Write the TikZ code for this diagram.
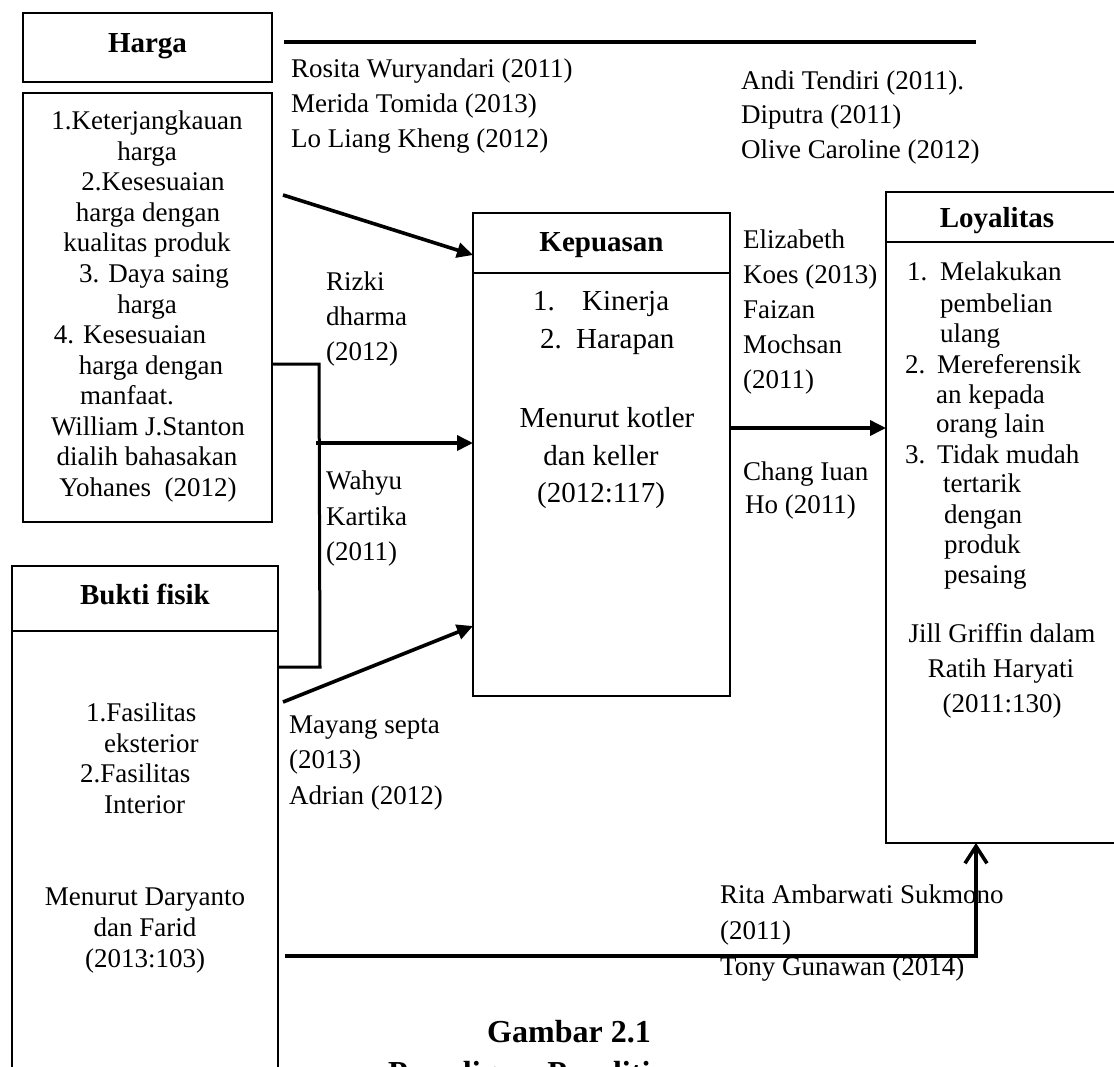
\documentclass[tikz,border=0pt]{standalone}
\usepackage{fontspec}
\setmainfont{Liberation Serif}
\usetikzlibrary{arrows.meta,calc}
\begin{document}
\begin{tikzpicture}[x=1pt,y=-1pt,
  txt/.style={font=\fontsize{27}{32}\selectfont, inner sep=0pt, anchor=base west},
  txtc/.style={txt, anchor=base},
  ktxt/.style={font=\fontsize{29}{34}\selectfont, inner sep=0pt, anchor=base west},
  ktxtc/.style={ktxt, anchor=base},
  ttl/.style={font=\bfseries\fontsize{29}{34}\selectfont, inner sep=0pt, anchor=base},
  capt/.style={font=\bfseries\fontsize{32}{38}\selectfont, inner sep=0pt, anchor=base west},
  thickbox/.style={draw, line width=2.6pt, inner sep=0pt, outer sep=0pt, anchor=north west},
  thinbox/.style={draw, line width=1.3pt, inner sep=0pt, outer sep=0pt, anchor=north west},
  divider/.style={line width=1.3pt},
  conn/.style={line width=3.6pt},
  arr/.style={conn, -{Triangle[length=16pt,width=15pt]}},
  openarr/.style={conn, line join=miter, -{Straight Barb[length=17pt,width=22pt]}}
]
\fill[white] (0,0) rectangle (1114,1066);
\useasboundingbox (0,0) rectangle (1114,1066);

% ---------- Harga ----------
\node[thickbox, minimum width=249pt, minimum height=69pt] (hargaT) at (23,13) {};
\node[ttl] (hargaL) at (147.5,52) {Harga};
\node[thickbox, minimum width=249pt, minimum height=429pt] (hargaB) at (23,93) {};
\node[txtc] (h1) at (147,129) {1.Keterjangkauan};
\node[txtc] (h2) at (147,160) {harga};
\node[txtc] (h3) at (153,190) {2.Kesesuaian};
\node[txtc] (h4) at (148,221) {harga dengan};
\node[txtc] (h5) at (147,251) {kualitas produk};
\node[txtc] (h6) at (154,282) {3. Daya saing};
\node[txtc] (h7) at (147,313) {harga};
\node[txtc] (h8) at (130,343) {4. Kesesuaian};
\node[txtc] (h9) at (151,374) {harga dengan};
\node[txt]  (h10) at (80,404) {manfaat.};
\node[txtc] (h11) at (148,435) {William J.Stanton};
\node[txtc] (h12) at (147,465) {dialih bahasakan};
\node[txtc] (h13) at (148,496) {Yohanes\ \ (2012)};

% ---------- top references ----------
\node[txt] (r1) at (291,77) {Rosita Wuryandari (2011)};
\node[txt] (r2) at (291,112) {Merida Tomida (2013)};
\node[txt] (r3) at (291,147) {Lo Liang Kheng (2012)};
\node[txt] (t1) at (741,89) {Andi Tendiri (2011).};
\node[txt] (t2) at (741,123) {Diputra (2011)};
\node[txt] (t3) at (741,158) {Olive Caroline (2012)};

% ---------- Kepuasan ----------
\node[thinbox, minimum width=257pt, minimum height=483pt] (kep) at (473,213) {};
\draw[divider] ($(kep.north west)+(0,60)$) -- ($(kep.north east)+(0,60)$);
\node[ttl] (kepL) at (601.5,251) {Kepuasan};
\node[ktxt] (k1n) at (533,310) {1.};
\node[ktxt] (k1) at (582,310) {Kinerja};
\node[ktxt] (k2n) at (540,348) {2.};
\node[ktxt] (k2) at (576,348) {Harapan};
\node[ktxtc] (k3) at (607,427) {Menurut kotler};
\node[ktxtc] (k4) at (601,465) {dan keller};
\node[ktxtc] (k5) at (601,502) {(2012:117)};

% ---------- middle references ----------
\node[txt] (z1) at (326,290) {Rizki};
\node[txt] (z2) at (326,325) {dharma};
\node[txt] (z3) at (326,360) {(2012)};
\node[txt] (w1) at (326,489) {Wahyu};
\node[txt] (w2) at (326,525) {Kartika};
\node[txt] (w3) at (326,560) {(2011)};
\node[txt] (m1) at (289,733) {Mayang septa};
\node[txt] (m2) at (289,768) {(2013)};
\node[txt] (m3) at (289,804) {Adrian (2012)};

% ---------- Bukti fisik ----------
\node[thinbox, minimum width=266pt, minimum height=530pt] (bukti) at (12,566) {};
\draw[divider] ($(bukti.north west)+(0,65)$) -- ($(bukti.north east)+(0,65)$);
\node[ttl] (buktiL) at (145,604) {Bukti fisik};
\node[txt] (b1) at (86,721) {1.Fasilitas};
\node[txt] (b2) at (104,752) {eksterior};
\node[txt] (b3) at (80,782) {2.Fasilitas};
\node[txt] (b4) at (104,813) {Interior};
\node[txtc] (b5) at (145,905) {Menurut Daryanto};
\node[txtc] (b6) at (145,936) {dan Farid};
\node[txtc] (b7) at (145,967) {(2013:103)};

% ---------- right references ----------
\node[txt] (e1) at (743,248) {Elizabeth};
\node[txt] (e2) at (743,283) {Koes (2013)};
\node[txt] (e3) at (743,318) {Faizan};
\node[txt] (e4) at (743,353) {Mochsan};
\node[txt] (e5) at (743,388) {(2011)};
\node[txt] (c1) at (743,480) {Chang Iuan};
\node[txt] (c2) at (745,513) {Ho (2011)};

% ---------- Loyalitas ----------
\node[thinbox, minimum width=234pt, minimum height=651pt] (loy) at (886,192) {};
\draw[divider] ($(loy.north west)+(0,50)$) -- ($(loy.north east)+(0,50)$);
\node[ttl] (loyL) at (997,227) {Loyalitas};
\node[txt] (l1n) at (907,280) {1.};
\node[txt] (l1a) at (940,280) {Melakukan};
\node[txt] (l1b) at (940,312) {pembelian};
\node[txt] (l1c) at (940,342) {ulang};
\node[txt] (l2n) at (905,373) {2.};
\node[txt] (l2a) at (937,373) {Mereferensik};
\node[txt] (l2b) at (936,403) {an kepada};
\node[txt] (l2c) at (936,432) {orang lain};
\node[txt] (l3n) at (905,463) {3.};
\node[txt] (l3a) at (937,463) {Tidak mudah};
\node[txt] (l3b) at (943,492) {tertarik};
\node[txt] (l3c) at (944,523) {dengan};
\node[txt] (l3d) at (944,553) {produk};
\node[txt] (l3e) at (944,583) {pesaing};
\node[txtc] (j1) at (1002,642) {Jill Griffin dalam};
\node[txtc] (j2) at (1001,677) {Ratih Haryati};
\node[txtc] (j3) at (1002,712) {(2011:130)};

% ---------- bottom references ----------
\node[txt] (s1) at (720,903) {Rita Ambarwati Sukmono};
\node[txt] (s2) at (720,939) {(2011)};
\node[txt] (s3) at (720,975) {Tony Gunawan (2014)};

% ---------- caption ----------
\node[capt] (cap1) at (487,1042) {Gambar 2.1};
\node[capt] (cap2) at (388,1083) {Paradigma Penelitian};

% ---------- connectors ----------
\coordinate (tl1) at (284,42);
\coordinate (tl2) at (976,42);
\draw[conn, line width=3.4pt] (tl1) -- (tl2);

\coordinate (a1s) at (283,195);
\draw[arr] (a1s) -- ($(kep.north west)+(0,42)$);

\coordinate (brT) at (319,364);
\coordinate (brB) at (320,667);
\draw[conn, line width=3pt, line join=miter] ($(hargaB.north east)+(0,271)$) -- (brT) -- (brB) -- ($(bukti.north east)+(0,101)$);

\coordinate (a2s) at (316,443);
\draw[arr] (a2s) -- ($(kep.north west)+(0,230)$);

\coordinate (a3s) at (283,702);
\draw[arr] (a3s) -- ($(kep.north west)+(0,413)$);

\draw[arr] ($(kep.north east)+(0,215)$) -- ($(loy.north west)+(0,236)$);

\coordinate (a5s) at (285,956);
\draw[openarr] (a5s) -| ($(loy.south west)+(90,0)$);
\end{tikzpicture}
\end{document}
